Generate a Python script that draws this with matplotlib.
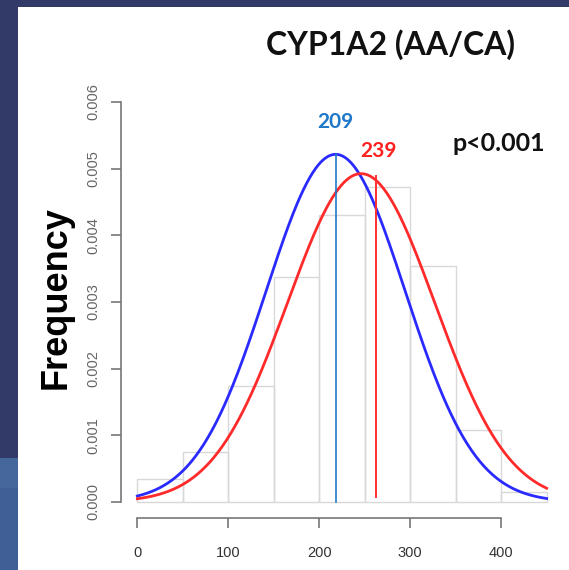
import numpy as np
import matplotlib.pyplot as plt
from matplotlib.patches import Rectangle

# histogram (bin width 50)
bin_edges = [0, 50, 100, 150, 200, 250, 300, 350, 400, 450]
bin_density = [0.00035, 0.00075, 0.00174, 0.00337, 0.0043, 0.00472, 0.00354, 0.00108, 0.00015]

# fitted normal curves
blue_mean, blue_sd = 218, 76.5
red_mean, red_sd = 246, 81
blue_line_x = 218
red_line_x = 262

y_ticks = [0.000, 0.001, 0.002, 0.003, 0.004, 0.005, 0.006]
x_ticks = [0, 100, 200, 300, 400]


def npdf(x, m, s):
    return np.exp(-0.5 * ((x - m) / s) ** 2) / (s * np.sqrt(2 * np.pi))


fig = plt.figure(figsize=(5.69, 5.70), dpi=100, facecolor='#323a68')
# lighter blue swoosh at the lower left of the slide
fig.patches.append(Rectangle((0, 0), 18 / 569, 1 - 458 / 570, transform=fig.transFigure,
                             facecolor='#46679c', edgecolor='none', zorder=-11))
fig.patches.append(Rectangle((0, 0), 18 / 569, 1 - 488 / 570, transform=fig.transFigure,
                             facecolor='#3f5f96', edgecolor='none', zorder=-11))
# white slide panel
fig.patches.append(Rectangle((18 / 569, 0), 1, 1 - 7 / 570, transform=fig.transFigure,
                             facecolor='white', edgecolor='none', zorder=-10))

ax = fig.add_axes([121 / 569, 1 - 518 / 570, 442 / 569, 432 / 570])
ax.set_facecolor('none')

widths = np.diff(bin_edges)
ax.bar(bin_edges[:-1], bin_density, width=widths, align='edge',
       facecolor='none', edgecolor='#d8d8d8', linewidth=1.0)

xs = np.linspace(0, 450, 400)
ax.plot(xs, npdf(xs, blue_mean, blue_sd), color='#2a2aff', lw=2)
ax.plot(xs, npdf(xs, red_mean, red_sd), color='#ff2a2a', lw=2)

ax.plot([blue_line_x, blue_line_x], [0, npdf(blue_mean, blue_mean, blue_sd)],
        color='#1f78c8', lw=1.2)
ax.plot([red_line_x, red_line_x], [0.00007, npdf(red_mean, red_mean, red_sd) - 0.00003],
        color='#ff3030', lw=1.4)

ax.set_xlim(-18, 468)
ax.set_ylim(-0.00024, 0.00624)

for s in ['top', 'right']:
    ax.spines[s].set_visible(False)
ax.spines['left'].set_bounds(0, 0.006)
ax.spines['bottom'].set_bounds(0, 400)
for s in ['left', 'bottom']:
    ax.spines[s].set_color('#777777')
    ax.spines[s].set_linewidth(1.2)

ax.set_yticks(y_ticks)
ax.set_yticklabels(['%.3f' % v for v in y_ticks], rotation=90, va='center',
                   family='Liberation Sans')
ax.set_xticks(x_ticks)
ax.set_xticklabels([str(v) for v in x_ticks], family='Liberation Sans')
ax.tick_params(axis='both', colors='#777777', length=7, width=1.2, labelsize=10.5)
ax.tick_params(axis='y', labelcolor='#666666', pad=8)
ax.tick_params(axis='x', labelcolor='#333333', pad=13)

fig.text(56 / 569, 1 - 298 / 570, 'Frequency', rotation=90, ha='center', va='center',
         fontsize=26, fontweight='bold', family='Liberation Sans')
fig.text(390 / 569, 1 - 45 / 570, 'CYP1A2 (AA/CA)', ha='center', va='center',
         fontsize=23, fontweight='bold', family='Lato', color='#111111')

ax.text(blue_line_x, 0.0057, '209', color='#1f78c8', ha='center', va='center',
        fontsize=15, fontweight='bold', family='Lato')
ax.text(265, 0.00527, '239', color='#ff2020', ha='center', va='center',
        fontsize=15, fontweight='bold', family='Lato')
ax.text(397, 0.00538, 'p<0.001', color='#111111', ha='center', va='center',
        fontsize=18, fontweight='bold', family='Lato')

fig.savefig('out.png', dpi=100, facecolor=fig.get_facecolor())
